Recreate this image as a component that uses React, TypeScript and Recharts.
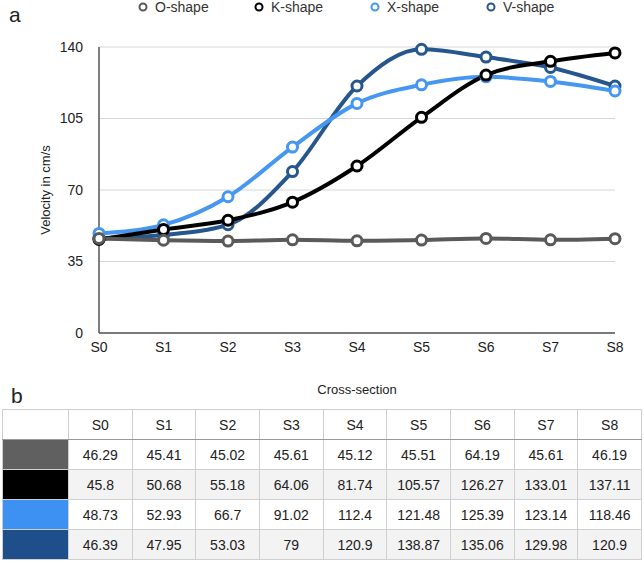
import React from 'react';
import { LineChart, Line, XAxis, YAxis, CartesianGrid } from 'recharts';

const sections = ['S0', 'S1', 'S2', 'S3', 'S4', 'S5', 'S6', 'S7', 'S8'];
const yTicks = [0, 35, 70, 105, 140];

// plotted values (O-shape S6 follows the drawn line, the table prints 64.19)
const oShape = [46.29, 45.41, 45.02, 45.61, 45.12, 45.51, 46.3, 45.61, 46.19];
const kShape = [45.8, 50.68, 55.18, 64.06, 81.74, 105.57, 126.27, 133.01, 137.11];
const xShape = [48.73, 52.93, 66.7, 91.02, 112.4, 121.48, 125.39, 123.14, 118.46];
const vShape = [46.39, 47.95, 53.03, 79, 120.9, 138.87, 135.06, 129.98, 120.9];

// values as printed in table b
const oShapeTable = ['46.29', '45.41', '45.02', '45.61', '45.12', '45.51', '64.19', '45.61', '46.19'];

const series = [
  { key: 'O', name: 'O-shape', values: oShape, color: '#5a5a5a', swatch: '#606060' },
  { key: 'K', name: 'K-shape', values: kShape, color: '#000000', swatch: '#000000' },
  { key: 'X', name: 'X-shape', values: xShape, color: '#4597f1', swatch: '#3d91f3' },
  { key: 'V', name: 'V-shape', values: vShape, color: '#26568e', swatch: '#1f4f8a' },
];

// draw order, last one on top
const drawOrder = ['V', 'X', 'K', 'O'];

const data = sections.map((s, i) => {
  const row: Record<string, string | number> = { section: s };
  series.forEach(se => {
    row[se.key] = se.values[i];
  });
  return row;
});

const font = '"Liberation Sans", Arial, Helvetica, sans-serif';

const App: React.FC = () => {
  const cellBorder = '1px solid #cfcfcf';

  return (
    <div
      style={{
        position: 'absolute',
        left: 0,
        top: 0,
        width: 644,
        height: 563,
        background: '#fff',
        fontFamily: font,
        color: '#222',
      }}
    >
      <div style={{ position: 'absolute', left: 9, top: 3, fontSize: 21 }}>a</div>
      <div style={{ position: 'absolute', left: 11, top: 384, fontSize: 21 }}>b</div>

      {/* legend */}
      <div style={{ position: 'absolute', left: 0, top: 0, width: 644, height: 16 }}>
        {series.map((se, i) => (
          <div
            key={se.key}
            style={{
              position: 'absolute',
              left: 137 + i * 116,
              top: -1,
              display: 'flex',
              alignItems: 'center',
              fontSize: 14,
              color: '#333',
            }}
          >
            <svg width={12} height={16}>
              <circle cx={6} cy={8} r={3.5} fill="#fff" stroke={se.color} strokeWidth={2} />
            </svg>
            <span style={{ marginLeft: 6 }}>{se.name}</span>
          </div>
        ))}
      </div>

      <div style={{ position: 'absolute', left: 0, top: 0 }}>
        <LineChart
          width={644}
          height={400}
          data={data}
          margin={{ top: 47, right: 29, left: 0, bottom: 0 }}
        >
          <CartesianGrid vertical={false} stroke="#d6d6d6" />
          <XAxis
            dataKey="section"
            height={67}
            axisLine={{ stroke: '#555', strokeWidth: 1.5 }}
            tickLine={false}
            tickMargin={3}
            tick={{ fill: '#222', fontSize: 14, fontFamily: font }}
            label={{
              value: 'Cross-section',
              position: 'insideBottom',
              offset: 6,
              style: { fill: '#222', fontSize: 13, fontFamily: font },
            }}
          />
          <YAxis
            width={99}
            domain={[0, 140]}
            ticks={yTicks}
            axisLine={{ stroke: '#555', strokeWidth: 1.5 }}
            tickLine={false}
            tickMargin={10}
            tick={{ fill: '#222', fontSize: 14, fontFamily: font }}
            label={{
              value: 'Velocity in cm/s',
              angle: -90,
              position: 'insideLeft',
              offset: 45,
              style: { textAnchor: 'middle', fill: '#222', fontSize: 13, fontFamily: font },
            }}
          />
          {drawOrder.map(k => {
            const se = series.find(s => s.key === k)!;
            return (
              <Line
                key={se.key}
                type="monotone"
                dataKey={se.key}
                name={se.name}
                stroke={se.color}
                strokeWidth={4}
                dot={{ r: 5, fill: '#fff', stroke: se.color, strokeWidth: 3 }}
                activeDot={false}
                isAnimationActive={false}
              />
            );
          })}
        </LineChart>
      </div>

      {/* table b */}
      <table
        style={{
          position: 'absolute',
          left: 2,
          top: 409,
          width: 640,
          borderCollapse: 'collapse',
          tableLayout: 'fixed',
          fontSize: 14,
          fontFamily: font,
          color: '#222',
        }}
      >
        <colgroup>
          <col style={{ width: 66 }} />
          {sections.map(s => (
            <col key={s} />
          ))}
        </colgroup>
        <tbody>
          <tr style={{ height: 30, background: '#fff' }}>
            <td style={{ border: cellBorder, borderBottom: '1px solid #999' }} />
            {sections.map(s => (
              <td
                key={s}
                style={{ border: cellBorder, borderBottom: '1px solid #999', textAlign: 'center', padding: 0 }}
              >
                {s}
              </td>
            ))}
          </tr>
          {series.map((se, r) => {
            const texts = se.key === 'O' ? oShapeTable : se.values.map(v => String(v));
            return (
              <tr key={se.key} style={{ height: 30, background: r % 2 === 1 ? '#f3f3f3' : '#fff' }}>
                <td style={{ border: cellBorder, background: se.swatch, padding: 0 }} />
                {texts.map((t, i) => (
                  <td key={i} style={{ border: cellBorder, textAlign: 'center', padding: 0 }}>
                    {t}
                  </td>
                ))}
              </tr>
            );
          })}
        </tbody>
      </table>
    </div>
  );
};

export default App;
